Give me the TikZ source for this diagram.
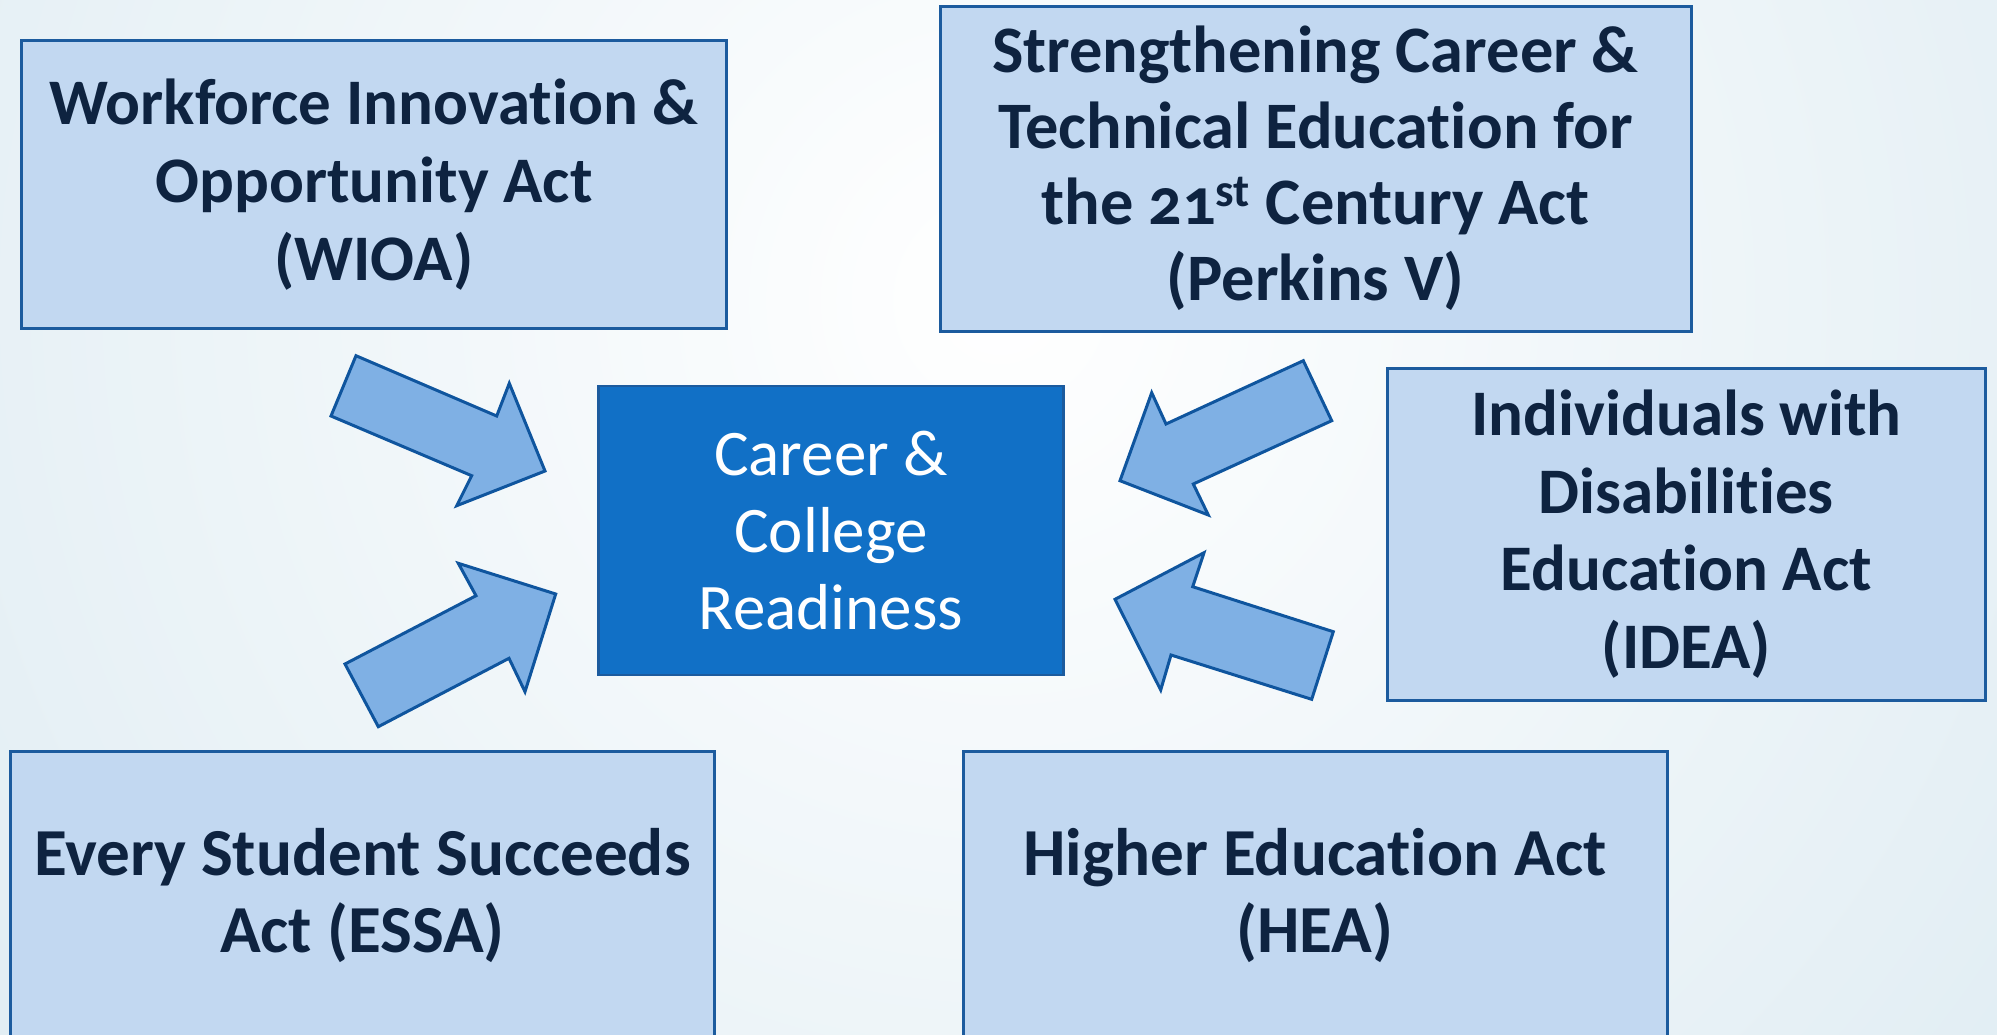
\documentclass[tikz,border=0pt]{standalone}
\usepackage{fontspec}
\setmainfont{Carlito}[Numbers=OldStyle, Ligatures=NoCommon]
\definecolor{bgblue}{HTML}{C9DFEA}
\definecolor{boxfill}{HTML}{C2D8F1}
\definecolor{boxline}{HTML}{1C5B9E}
\definecolor{txtnavy}{HTML}{0E2340}
\definecolor{centerfill}{HTML}{1170C6}
\definecolor{arrowfill}{HTML}{7FB0E4}
\definecolor{arrowline}{HTML}{0F559E}
\tikzset{
  actbox/.style={draw=boxline, fill=boxfill, line width=1.5pt, text=txtnavy,
    font=\fontsize{32.5}{38.8}\selectfont\bfseries, align=center, inner sep=0pt},
  corebox/.style={draw=boxline, fill=centerfill, line width=1.2pt, text=white,
    font=\fontsize{32.5}{38.5}\selectfont, align=center, inner sep=0pt},
  blockarrow/.style={draw=arrowline, fill=arrowfill, line width=1.5pt, line join=miter}
}
\begin{document}
\begin{tikzpicture}[x=0.5pt,y=-0.5pt]
\useasboundingbox (0,0) rectangle (1997,1034);
\begin{scope}
  \clip (0,0) rectangle (1997,1034);
  \fill[bgblue] (0,0) rectangle (1997,1034);
  \shade[inner color=white, outer color=bgblue] (1000,300) circle (2300);
  % boxes
  \node[actbox, minimum width=352.2pt, minimum height=143.9pt] (wioa) at (373.9,184.7)
    {Workforce Innovation \&\\Opportunity Act\\(WIOA)};
  \node[actbox, minimum width=375.5pt, minimum height=162.3pt,
        font=\fontsize{33.2}{38}\selectfont\bfseries] (perkins) at (1315.5,168.7)
    {Strengthening Career \&\\Technical Education for\\the 21\textsuperscript{st} Century Act\\(Perkins V)};
  \node[actbox, minimum width=299.3pt, minimum height=166.3pt] (idea) at (1686.3,534.3)
    {Individuals with\\Disabilities\\Education Act\\(IDEA)};
  \node[actbox, minimum width=352.2pt, minimum height=144.5pt,
        font=\fontsize{33.6}{38.8}\selectfont\bfseries] (essa) at (362.4,895.5)
    {Every Student Succeeds\\Act (ESSA)};
  \node[actbox, minimum width=352pt, minimum height=144.5pt,
        font=\fontsize{33.6}{38.8}\selectfont\bfseries] (hea) at (1315,895.5)
    {Higher Education Act\\(HEA)};
  \node[corebox, minimum width=232.5pt, minimum height=144.5pt] (core) at (831,530.5)
    {Career \&\\College\\Readiness};
  % block arrows
  \draw[blockarrow] (356,355.7) -- (496.7,416) -- (509.3,383.3) -- (545,471)
    -- (456.7,505.7) -- (471.7,475.7) -- (331,416) -- cycle;
  \draw[blockarrow] (458.3,563.3) -- (555.7,594) -- (525,691.7) -- (509,658.3)
    -- (378.3,726.7) -- (345,664) -- (476,595.7) -- cycle;
  \draw[blockarrow] (1303.3,360.7) -- (1331.7,420.7) -- (1193.3,484) -- (1208.3,515)
    -- (1120,480.7) -- (1151.7,392.7) -- (1166,424) -- cycle;
  \draw[blockarrow] (1204,552.7) -- (1192.7,586.7) -- (1333.3,631.7) -- (1311.7,699.3)
    -- (1171,655) -- (1160.7,690) -- (1115,599.3) -- cycle;
\end{scope}
\end{tikzpicture}
\end{document}
